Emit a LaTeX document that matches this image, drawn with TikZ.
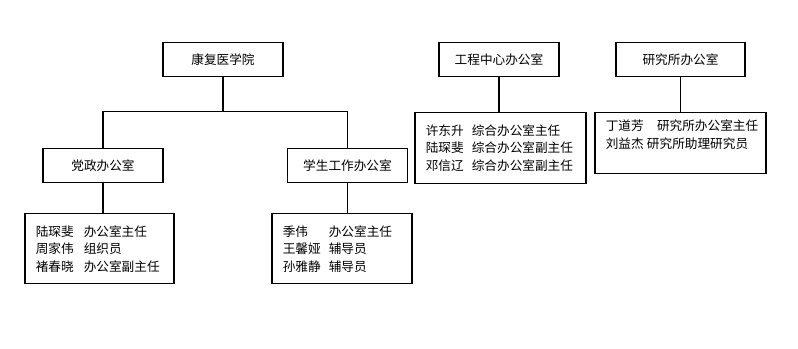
\documentclass[tikz,border=0pt]{standalone}
\usepackage{fontspec}
\newfontfamily\cjk{Noto Sans CJK SC}
\usetikzlibrary{
    calc,
    positioning
}
\definecolor{ink}{RGB}{0,0,0}
\tikzset{
    unitbox/.style={
        rectangle,
        draw=ink,
        line width=0.8pt,
        minimum width=3.0cm,
        minimum height=0.84cm,
        align=center,
        text=ink
    },
    staffbox/.style={
        rectangle,
        draw=ink,
        line width=0.8pt,
        align=left,
        inner xsep=0.27cm,
        inner ysep=2pt,
        text=ink
    },
    orgline/.style={
        -,
        draw=ink,
        line width=0.75pt
    }
}
\newcommand{\staffrow}[3][1.2cm]{\makebox[#1][l]{#2}#3}

\begin{document}
\begin{tikzpicture}[
    every node/.style={font=\cjk\fontsize{9}{12.5}\selectfont}
]
\useasboundingbox (0,0) rectangle (19.95,-8.725);

% Left: college and its two offices
\node[unitbox] (college) at (5.575,-1.4875) {康复医学院};
\node[unitbox] (dz) at (2.575,-4.1375) {党政办公室};
\node[unitbox] (xs) at (8.6875,-4.1375) {学生工作办公室};

\node[staffbox, below=0.7625cm of dz, xshift=-0.0875cm, text width=3.185cm, minimum height=1.75cm] (dzstaff)
    {\staffrow{陆琛斐}{办公室主任}\\\staffrow{周家伟}{组织员}\\\staffrow{褚春晓}{办公室副主任}};
\node[staffbox, below=0.7625cm of xs, xshift=-0.1375cm, text width=2.96cm, minimum height=1.75cm] (xsstaff)
    {\staffrow[1.15cm]{季伟}{办公室主任}\\\staffrow[1.15cm]{王馨娅}{辅导员}\\\staffrow[1.15cm]{孙雅静}{辅导员}};

\draw[orgline] (college.south) -- ++(0,-0.875) coordinate (split);
\draw[orgline] (dz.north) |- (split) -| (xs.north);
\draw[orgline] (dz.south) -- (dz.south |- dzstaff.north);
\draw[orgline] (xs.south) -- (xs.south |- xsstaff.north);

% Right: engineering centre and institute
\node[unitbox] (eng) at (12.475,-1.4875) {工程中心办公室};
\node[unitbox, minimum width=3.225cm] (inst) at (17.0125,-1.4875) {研究所办公室};

\node[staffbox, below=0.875cm of eng, xshift=0.0375cm, text width=3.735cm, minimum height=1.775cm] (engstaff)
    {\staffrow[1.15cm]{许东升}{综合办公室主任}\\\staffrow[1.15cm]{陆琛斐}{综合办公室副主任}\\\staffrow[1.15cm]{邓信辽}{综合办公室副主任}};
\node[staffbox, below=0.875cm of inst, text width=3.735cm, minimum height=1.525cm] (inststaff)
    {\staffrow[1.28cm]{丁道芳}{研究所办公室主任}\\刘益杰\hspace{0.08cm}研究所助理研究员\\\mbox{}};

\draw[orgline] (eng.south) -- (eng.south |- engstaff.north);
\draw[orgline] (inst.south) -- (inst.south |- inststaff.north);

\end{tikzpicture}
\end{document}
